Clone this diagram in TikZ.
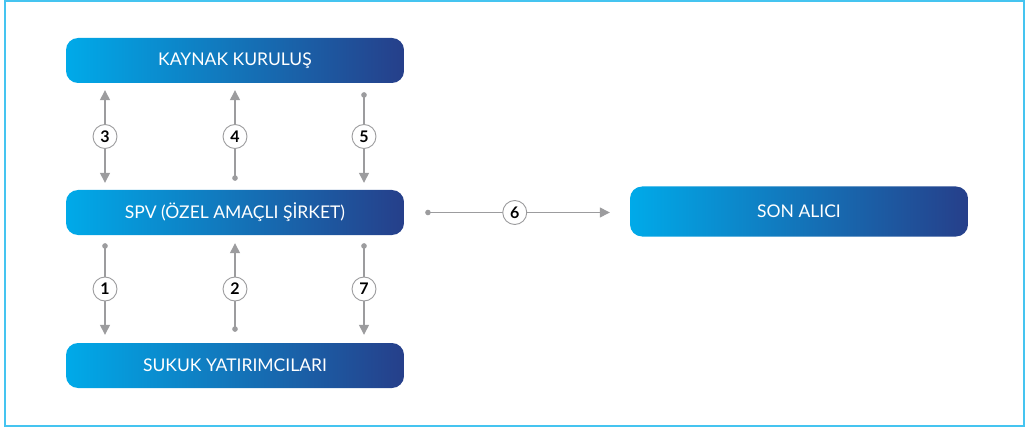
\documentclass[tikz,border=0pt]{standalone}
\usepackage{fontspec}
\setmainfont{Lato}
\usetikzlibrary{
  arrows.meta, % For arrow tips
  positioning % For relative placement
}

\definecolor{boxleft}{HTML}{00AAE9}
\definecolor{boxright}{HTML}{263F8A}
\definecolor{flowgray}{HTML}{9C9C9E}
\definecolor{framecyan}{HTML}{45C4F0}

\begin{document}
\begin{tikzpicture}[
      x=1pt, y=1pt,
      party/.style={rounded corners=12pt, left color=boxleft, right color=boxright,
        minimum width=338pt, minimum height=45pt, text=white, font=\fontsize{17.5}{20}\selectfont},
      flow/.style={flowgray, line width=1.3pt, shorten >=7pt, shorten <=7pt},
      num/.style={circle, draw=flowgray, line width=0.9pt, fill=white, text=black,
        minimum size=24pt, inner sep=0pt, font=\fontsize{16}{18}\selectfont\bfseries},
      tip/.tip={Triangle[length=10pt, width=10pt]},
      dot/.tip={Circle[length=5.5pt]},
    ]

    % Rahmen
    \useasboundingbox (0,0) rectangle (1025,429);
    \draw[framecyan, line width=1.6pt] (5,3) rectangle (1024,428);

    % Kutular
    \node[party] (kaynak) at (235,368.5) {KAYNAK KURULUŞ};
    \node[party] (spv) at (235,216.5) {SPV (ÖZEL AMAÇLI ŞİRKET)};
    \node[party] (sukuk) at (235,63.5) {SUKUK YATIRIMCILARI};
    \node[party, minimum height=50pt] (alici) at (799,217.5) {SON ALICI};

    % Oklar: Kaynak <-> SPV
    \draw[flow, tip-tip] ([xshift=-130pt]kaynak.south) -- node[num] {3} ([xshift=-130pt]spv.north);
    \draw[flow, tip-dot, shorten >=9pt] ([xshift=0pt]kaynak.south) -- node[num] {4} ([xshift=0pt]spv.north);
    \draw[flow, dot-tip, shorten <=9pt] ([xshift=129pt]kaynak.south) -- node[num] {5} ([xshift=129pt]spv.north);

    % Oklar: SPV <-> Sukuk
    \draw[flow, dot-tip, shorten <=8pt, shorten >=8pt] ([xshift=-130pt]spv.south) -- node[num] {1} ([xshift=-130pt]sukuk.north);
    \draw[flow, tip-dot, shorten <=8pt, shorten >=11pt] ([xshift=0pt]spv.south) -- node[num] {2} ([xshift=0pt]sukuk.north);
    \draw[flow, dot-tip, shorten <=8pt, shorten >=8pt] ([xshift=129pt]spv.south) -- node[num] {7} ([xshift=129pt]sukuk.north);

    % Ok: SPV -> Son Alıcı
    \draw[flow, dot-tip, shorten <=21pt, shorten >=20pt] (spv.east) -- node[num, pos=0.49] {6} (spv.east -| alici.west);

  \end{tikzpicture}
\end{document}
